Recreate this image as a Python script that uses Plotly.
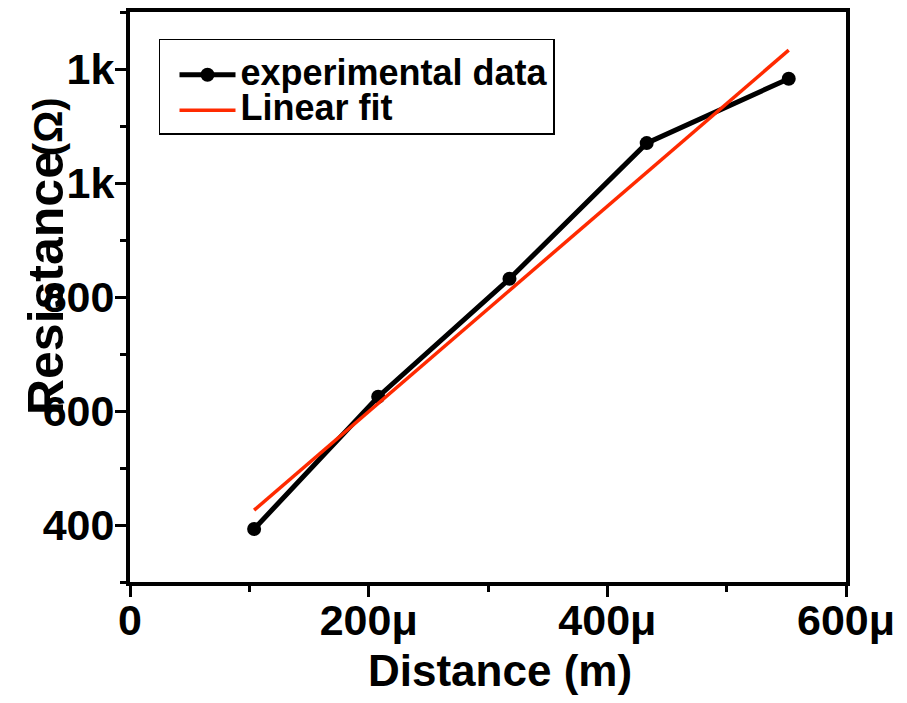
import plotly.graph_objects as go

# Data (distance in metres, resistance in ohms)
distance_m = [104e-6, 208e-6, 318e-6, 433e-6, 552e-6]
resistance_ohm = [393, 625, 832, 1070, 1183]

# Linear fit line endpoints
fit_x = [104e-6, 552e-6]
fit_y = [426, 1233]

# Tick labels
x_tickvals = [0, 200e-6, 400e-6, 600e-6]
x_ticktext = ["0", "200μ", "400μ", "600μ"]
y_tickvals = [400, 600, 800, 1000, 1200]
y_ticktext = ["400", "600", "800", "1k", "1k"]

FONT = "Liberation Sans, Arial, sans-serif"

fig = go.Figure()
fig.add_trace(go.Scatter(
    x=distance_m, y=resistance_ohm, mode="lines+markers",
    name='<span style="font-size:36px">experimental data</span>',
    line=dict(color="black", width=5),
    marker=dict(color="black", size=14, symbol="circle"),
))
fig.add_trace(go.Scatter(
    x=fit_x, y=fit_y, mode="lines",
    name='<span style="font-size:36px">Linear fit</span>',
    line=dict(color="#ff2a00", width=3.5),
))

axis_common = dict(
    showline=True, linewidth=4, linecolor="black", mirror=True,
    ticks="outside", ticklen=11, tickwidth=3, tickcolor="black",
    showgrid=False, zeroline=False,
    tickfont=dict(family=FONT, size=43, color="black", weight="bold"),
)

fig.update_xaxes(
    range=[0, 600e-6], tickmode="array", tickvals=x_tickvals, ticktext=x_ticktext,
    ticklabelstandoff=-14,
    minor=dict(ticks="outside", ticklen=6, tickwidth=3, tickcolor="black",
               tick0=0, dtick=100e-6, showgrid=False),
    **axis_common,
)
fig.update_yaxes(
    range=[300, 1300], tickmode="array", tickvals=y_tickvals, ticktext=y_ticktext,
    ticklabelstandoff=-8,
    minor=dict(ticks="outside", ticklen=6, tickwidth=3, tickcolor="black",
               tick0=300, dtick=100, showgrid=False),
    **axis_common,
)

fig.update_layout(
    width=907, height=703,
    margin=dict(l=130, r=61, t=8, b=121, pad=0),
    plot_bgcolor="white", paper_bgcolor="white",
    showlegend=True,
    legend=dict(
        x=0.0405, y=(582 - 35) / 574, xanchor="left", yanchor="top",
        bgcolor="white", bordercolor="black", borderwidth=1.5,
        font=dict(family=FONT, size=25, color="black", weight="bold"),
        title=dict(text=" ", font=dict(family=FONT, size=9)),
        itemwidth=56, indentation=14, tracegroupgap=0,
    ),
    annotations=[
        dict(text="Resistance", xref="paper", yref="paper",
             x=(46 - 130) / 716, y=(582 - 281) / 574,
             xanchor="center", yanchor="middle", textangle=-90, showarrow=False,
             font=dict(family=FONT, size=50, color="black", weight="bold")),
        dict(text="(Ω)", xref="paper", yref="paper",
             x=(48 - 130) / 716, y=(582 - 124) / 574,
             xanchor="center", yanchor="middle", textangle=-90, showarrow=False,
             font=dict(family=FONT, size=40, color="black", weight="bold")),
        dict(text="Distance (m)", xref="paper", yref="paper",
             x=(500 - 130) / 716, y=(582 - 671) / 574,
             xanchor="center", yanchor="middle", showarrow=False,
             font=dict(family=FONT, size=44, color="black", weight="bold")),
    ],
)

fig.write_html("out.html", config={"displayModeBar": False},
               post_script="document.body.style.margin='0';")
